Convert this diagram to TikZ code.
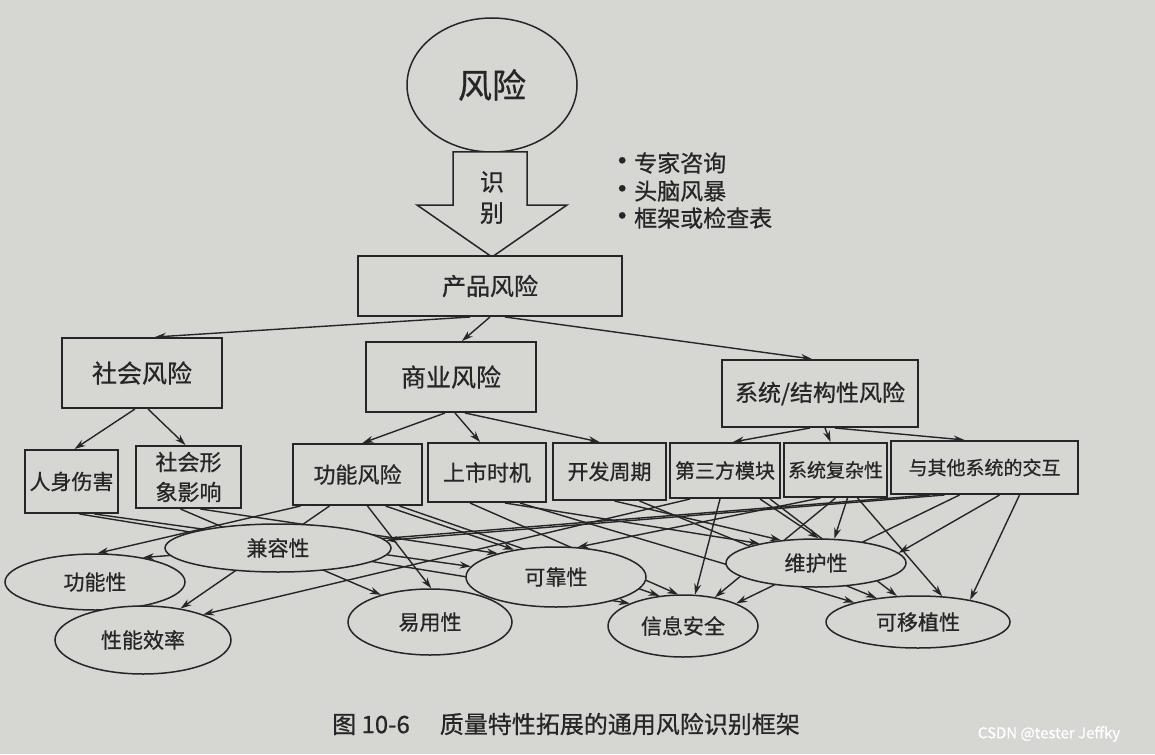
\documentclass[tikz,border=0pt]{standalone}
\usepackage{fontspec}
\setmainfont{Noto Sans CJK SC}[FakeBold=0.7]
\usetikzlibrary{shapes.geometric,arrows.meta,calc}
\definecolor{paper}{RGB}{214,214,210}
\definecolor{ink}{RGB}{38,38,38}
\pgfdeclarelayer{back}
\pgfdeclarelayer{wires}
\pgfsetlayers{back,wires,main}
\tikzset{
  boxn/.style={draw=ink, line width=2pt, fill=paper, inner sep=0pt, text=ink, align=center},
  ell/.style={ellipse, draw=ink, line width=1.5pt, fill=paper, inner sep=0pt, text=ink, font=\fontsize{21}{24}\selectfont},
  wire/.style={draw=ink, line width=1.4pt, -{Stealth[length=11pt,width=7pt]}},
  lbl/.style={text=ink, inner sep=0pt}
}
\newcommand{\bul}{{\fontsize{30}{24}\selectfont •}\hspace{-3pt}}
\begin{document}
\begin{tikzpicture}[x=1pt,y=-1pt]
\begin{pgfonlayer}{back}
\fill[paper] (0,0) rectangle (1155,754);
\end{pgfonlayer}
\useasboundingbox (0,0) rectangle (1155,754);

% top
\node[ellipse, draw=ink, line width=1.5pt, minimum width=170pt, minimum height=134pt, inner sep=0pt, text=ink, font=\fontsize{34}{38}\selectfont] (risk) at (492,85) {风险};
\draw[ink, line width=1.5pt, fill=paper] (453,152) -- (527,152) -- (527,205) -- (567,205) -- (492,257) -- (417,205) -- (453,205) -- cycle;
\node[lbl, font=\fontsize{24}{26}\selectfont] (shi) at (492,182) {识};
\node[lbl, font=\fontsize{24}{26}\selectfont] (bie) at (492,213) {别};
\node[lbl, anchor=west, font=\fontsize{23}{26}\selectfont] (b1) at (607,163) {\bul 专家咨询};
\node[lbl, anchor=west, font=\fontsize{23}{26}\selectfont] (b2) at (607,191) {\bul 头脑风暴};
\node[lbl, anchor=west, font=\fontsize{23}{26}\selectfont] (b3) at (607,218) {\bul 框架或检查表};

\node[boxn, minimum width=264pt, minimum height=60pt, font=\fontsize{24}{28}\selectfont] (prod) at (490,286) {产品风险};

% second level
\node[boxn, minimum width=160pt, minimum height=70pt, font=\fontsize{25}{28}\selectfont] (soc) at (142,373) {社会风险};
\node[boxn, minimum width=170pt, minimum height=70pt, font=\fontsize{25}{28}\selectfont] (bus) at (451,377) {商业风险};
\node[boxn, minimum width=196pt, minimum height=67pt, font=\fontsize{23}{28}\selectfont] (sys) at (820,393.5) {系统/结构性风险};

% leaves
\node[boxn, minimum width=93pt, minimum height=63pt, font=\fontsize{21}{24}\selectfont] (rs1) at (71.5,481.5) {人身伤害};
\node[boxn, minimum width=105pt, minimum height=62pt, font=\fontsize{22}{30}\selectfont] (rs2) at (188.5,477) {社会形\\象影响};
\node[boxn, minimum width=129pt, minimum height=61pt, font=\fontsize{22}{24}\selectfont] (fr) at (357.5,474.5) {功能风险};
\node[boxn, minimum width=118pt, minimum height=59pt, font=\fontsize{22}{24}\selectfont] (tm) at (487,472.5) {上市时机};
\node[boxn, minimum width=113pt, minimum height=57pt, font=\fontsize{21}{24}\selectfont] (dc) at (609.5,471.5) {开发周期};
\node[boxn, minimum width=110pt, minimum height=55pt, font=\fontsize{20}{24}\selectfont] (m3) at (725,470.5) {第三方模块};
\node[boxn, minimum width=103pt, minimum height=54pt, font=\fontsize{19}{24}\selectfont] (cx) at (835.5,470) {系统复杂性};
\node[boxn, minimum width=187pt, minimum height=53pt, font=\fontsize{19}{24}\selectfont] (io) at (984.5,467.5) {与其他系统的交互};

% quality characteristics
\node[ell, minimum width=226pt, minimum height=48pt] (compat) at (278,548) {兼容性};
\node[ell, minimum width=180pt, minimum height=56pt] (func) at (95,582) {功能性};
\node[ell, minimum width=176pt, minimum height=68pt] (perf) at (143,640) {性能效率};
\node[ell, minimum width=164pt, minimum height=66pt] (usab) at (430,622) {易用性};
\node[ell, minimum width=180pt, minimum height=60pt] (rel) at (556,577) {可靠性};
\node[ell, minimum width=150pt, minimum height=62pt] (sec) at (683,626) {信息安全};
\node[ell, minimum width=180pt, minimum height=48pt] (maint) at (816,563) {维护性};
\node[ell, minimum width=184pt, minimum height=52pt] (port) at (918,622) {可移植性};

% caption and mark
\node[lbl, font=\fontsize{24}{28}\selectfont] (cap) at (566,724) {图 10-6\hspace{30pt}质量特性拓展的通用风险识别框架};
\node[lbl, text=white, font=\fontsize{15}{18}\selectfont] (wm) at (1049,734) {CSDN @tester Jeffky};

\begin{pgfonlayer}{wires}
% upper tree
\draw[wire] ([xshift=-20pt]prod.south) -- ([xshift=13pt]soc.north);
\draw[wire] ([xshift=0pt]prod.south) -- ([xshift=11pt]bus.north);
\draw[wire] ([xshift=15pt]prod.south) -- ([xshift=-8pt]sys.north);
\draw[wire] ([xshift=-7pt]soc.south) -- ([xshift=3pt]rs1.north);
\draw[wire] ([xshift=6pt]soc.south) -- ([xshift=-3pt]rs2.north);
\draw[wire] ([xshift=-6pt]bus.south) -- ([xshift=5pt]fr.north);
\draw[wire] ([xshift=4pt]bus.south) -- ([xshift=-7pt]tm.north);
\draw[wire] ([xshift=14pt]bus.south) -- ([xshift=-10pt]dc.north);
\draw[wire] ([xshift=-10pt]sys.south) -- ([xshift=8pt]m3.north);
\draw[wire] ([xshift=5pt]sys.south) -- ([xshift=-5pt]cx.north);
\draw[wire] ([xshift=15pt]sys.south) -- ([xshift=-20pt]io.north);

% web
\draw[wire] ([xshift=23pt]rs1.south) -- (rel.173);
\draw[wire] ([xshift=8pt]rs1.south) -- (sec.157);
\draw[wire] ([xshift=12pt]rs2.south) -- (rel.158);
\draw[wire] ([xshift=-8pt]rs2.south) -- (usab.151);
\draw[wire] ([xshift=-57pt]fr.south) -- (func.85);
\draw[wire] ([xshift=-28pt]fr.south) -- (perf.40);
\draw[wire] ([xshift=10pt]fr.south) -- (usab.88);
\draw[wire] ([xshift=28pt]fr.south) -- (rel.147);
\draw[wire] ([xshift=42pt]fr.south) -- (sec.128);
\draw[wire] ([xshift=-17pt]tm.south) -- (sec.99);
\draw[wire] ([xshift=18pt]tm.south) -- (maint.161);
\draw[wire] ([xshift=33pt]tm.south) -- (port.163);
\draw[wire] ([xshift=5pt]dc.south) -- (maint.147);
\draw[wire] ([xshift=30pt]dc.south) -- (port.150);
\draw[wire] ([xshift=-5pt]m3.south) -- (sec.69);
\draw[wire] ([xshift=35pt]m3.south) -- (maint.84);
\draw[wire] ([xshift=45pt]m3.south) -- (port.129);
\draw[wire] ([xshift=-35pt]m3.south) -- (perf.23);
\draw[wire] ([xshift=12pt]cx.south) -- (maint.53);
\draw[wire] ([xshift=22pt]cx.south) -- (port.47);
\draw[wire] ([xshift=0pt]cx.south) -- (sec.42);
\draw[wire] ([xshift=-15pt]cx.south) -- (rel.54);
\draw[wire] ([xshift=15pt]io.south) -- (maint.7);
\draw[wire] ([xshift=35pt]io.south) -- (port.23);
\draw[wire] ([xshift=-25pt]io.south) -- (sec.23);
\draw[wire] ([xshift=-55pt]io.south) -- (func.27);
\draw[wire] ([xshift=-40pt]io.south) -- (compat.4);
\end{pgfonlayer}
\end{tikzpicture}
\end{document}
